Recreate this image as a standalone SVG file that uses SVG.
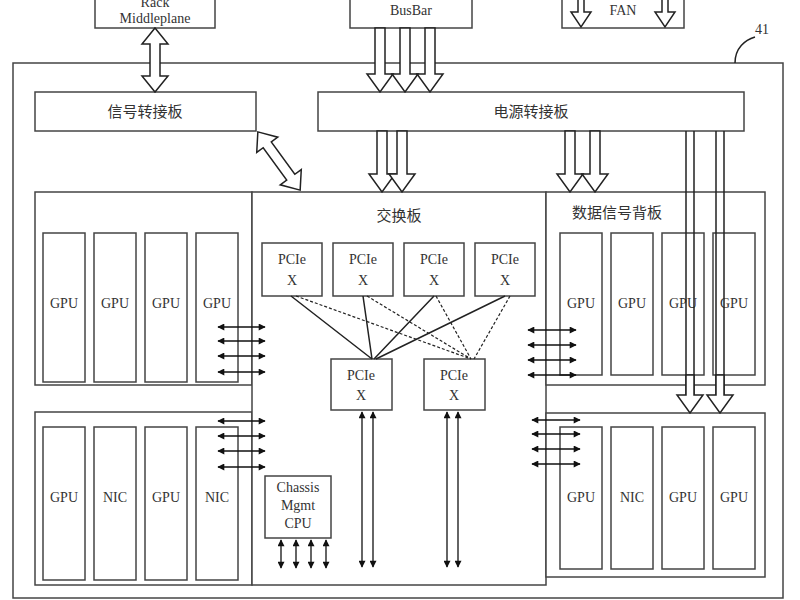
<svg xmlns="http://www.w3.org/2000/svg" width="800" height="600" viewBox="0 0 800 600">
<defs>
<style>
.b{fill:#fff;stroke:#444;stroke-width:1.5}
.t{font-family:"Liberation Serif","Noto Sans CJK SC",serif;font-size:14px;fill:#333;text-anchor:middle}
.c{font-size:15px}
.h{fill:#fff;stroke:#222;stroke-width:1.5}
.l{stroke:#222;stroke-width:1.5;fill:none}
.d{stroke:#222;stroke-width:1.2;fill:none;stroke-dasharray:3 2}
.a{stroke:#111;stroke-width:1.3;marker-start:url(#m);marker-end:url(#m)}
</style>
<marker id="m" viewBox="0 0 10 10" refX="9" refY="5" markerWidth="9" markerHeight="7" orient="auto-start-reverse" markerUnits="userSpaceOnUse"><path d="M0,0L10,5L0,10Z" fill="#111"/></marker>
</defs>
<rect width="800" height="600" fill="#fff"/>
<g id="outer"><rect class="b" x="13" y="63" width="770" height="535"/>
<path class="l" d="M735,63 C735,48 745,40 755,37"/><text class="t" x="762" y="34">41</text></g>
<g id="rack"><rect class="b" x="95" y="-10" width="120" height="38"/><text class="t" x="155" y="7">Rack</text><text class="t" x="155" y="23">Middleplane</text></g>
<g id="busbar"><rect class="b" x="350" y="-10" width="122" height="38"/><text class="t" x="411" y="15">BusBar</text></g>
<g id="fan"><rect class="b" x="562" y="-10" width="122" height="38"/><text class="t" x="623" y="15">FAN</text></g>
<g id="signal"><rect class="b" x="35" y="92" width="221" height="39"/><text class="t c" x="145" y="117">信号转接板</text></g>
<g id="power"><rect class="b" x="318" y="92" width="426" height="39"/><text class="t c" x="531" y="117">电源转接板</text></g>
<g id="leftTop"><rect class="b" x="35" y="192" width="217" height="193"/>
<rect class="b" x="43" y="233" width="42" height="149"/><rect class="b" x="94" y="233" width="42" height="149"/><rect class="b" x="145" y="233" width="42" height="149"/><rect class="b" x="196" y="233" width="42" height="149"/>
<text class="t" x="64" y="308">GPU</text><text class="t" x="115" y="308">GPU</text><text class="t" x="166" y="308">GPU</text><text class="t" x="217" y="308">GPU</text></g>
<g id="leftBottom"><rect class="b" x="35" y="412" width="217" height="173"/>
<rect class="b" x="43" y="427" width="42" height="153"/><rect class="b" x="94" y="427" width="42" height="153"/><rect class="b" x="145" y="427" width="42" height="153"/><rect class="b" x="196" y="427" width="42" height="153"/>
<text class="t" x="64" y="502">GPU</text><text class="t" x="115" y="502">NIC</text><text class="t" x="166" y="502">GPU</text><text class="t" x="217" y="502">NIC</text></g>
<g id="switch"><rect class="b" x="252" y="192" width="294" height="393"/><text class="t c" x="399" y="221">交换板</text></g>
<g id="rightTop"><rect class="b" x="546" y="192" width="219" height="193"/><text class="t c" x="617" y="218">数据信号背板</text>
<rect class="b" x="560" y="233" width="42" height="142"/><rect class="b" x="611" y="233" width="42" height="142"/><rect class="b" x="662" y="233" width="42" height="142"/><rect class="b" x="713" y="233" width="42" height="142"/>
<text class="t" x="581" y="308">GPU</text><text class="t" x="632" y="308">GPU</text><text class="t" x="683" y="308">GPU</text><text class="t" x="734" y="308">GPU</text></g>
<g id="rightBottom"><rect class="b" x="546" y="413" width="219" height="164"/>
<rect class="b" x="560" y="427" width="42" height="142"/><rect class="b" x="611" y="427" width="42" height="142"/><rect class="b" x="662" y="427" width="42" height="142"/><rect class="b" x="713" y="427" width="42" height="142"/>
<text class="t" x="581" y="502">GPU</text><text class="t" x="632" y="502">NIC</text><text class="t" x="683" y="502">GPU</text><text class="t" x="734" y="502">GPU</text></g>
<g id="pcie1"><rect class="b" x="262" y="243" width="60" height="53"/><text class="t" x="292" y="264">PCIe</text><text class="t" x="292" y="285">X</text></g>
<g id="pcie2"><rect class="b" x="333" y="243" width="60" height="53"/><text class="t" x="363" y="264">PCIe</text><text class="t" x="363" y="285">X</text></g>
<g id="pcie3"><rect class="b" x="404" y="243" width="60" height="53"/><text class="t" x="434" y="264">PCIe</text><text class="t" x="434" y="285">X</text></g>
<g id="pcie4"><rect class="b" x="475" y="243" width="60" height="53"/><text class="t" x="505" y="264">PCIe</text><text class="t" x="505" y="285">X</text></g>
<g id="pcie5"><rect class="b" x="331" y="359" width="61" height="51"/><text class="t" x="361" y="380">PCIe</text><text class="t" x="361" y="400">X</text></g>
<g id="pcie6"><rect class="b" x="424" y="359" width="61" height="51"/><text class="t" x="454" y="380">PCIe</text><text class="t" x="454" y="400">X</text></g>
<g id="cpu"><rect class="b" x="265" y="476" width="66" height="62"/><text class="t" x="298" y="492">Chassis</text><text class="t" x="298" y="510">Mgmt</text><text class="t" x="298" y="528">CPU</text></g>
<g id="connectors">
<path class="l" d="M291,296L372,359M363,296L372,359M434,296L374,359M505,296L376,359"/>
<path class="d" d="M296,296L471,359M367,296L471,359M436,296L471,359M510,296L474,359"/>
<line class="a" x1="218" y1="327" x2="265" y2="327"/><line class="a" x1="218" y1="341" x2="265" y2="341"/><line class="a" x1="218" y1="356" x2="265" y2="356"/><line class="a" x1="218" y1="372" x2="265" y2="372"/>
<line class="a" x1="218" y1="421" x2="265" y2="421"/><line class="a" x1="218" y1="436" x2="265" y2="436"/><line class="a" x1="218" y1="451" x2="265" y2="451"/><line class="a" x1="218" y1="467" x2="265" y2="467"/>
<line class="a" x1="528" y1="330" x2="576" y2="330"/><line class="a" x1="528" y1="345" x2="576" y2="345"/><line class="a" x1="528" y1="360" x2="576" y2="360"/><line class="a" x1="528" y1="375" x2="576" y2="375"/>
<line class="a" x1="532" y1="420" x2="580" y2="420"/><line class="a" x1="532" y1="434" x2="580" y2="434"/><line class="a" x1="532" y1="449" x2="580" y2="449"/><line class="a" x1="532" y1="464" x2="580" y2="464"/>
<line class="a" x1="362" y1="412" x2="362" y2="567"/><line class="a" x1="373" y1="412" x2="373" y2="567"/><line class="a" x1="447" y1="412" x2="447" y2="567"/><line class="a" x1="458" y1="412" x2="458" y2="567"/>
<line class="a" x1="281" y1="540" x2="281" y2="568"/><line class="a" x1="296" y1="540" x2="296" y2="568"/><line class="a" x1="311" y1="540" x2="311" y2="568"/><line class="a" x1="326" y1="540" x2="326" y2="568"/>
<polygon class="h" points="155,28 168,44 160,44 160,76 168,76 155,92 142,76 150,76 150,44 142,44"/>
<polygon class="h" transform="rotate(-36 279 161)" points="279,125 292,141 284,141 284,181 292,181 279,197 266,181 274,181 274,141 266,141"/>
<polygon class="h" points="375,28 385,28 385,74 393,74 380,92 367,74 375,74"/>
<polygon class="h" points="400,28 410,28 410,74 418,74 405,92 392,74 400,74"/>
<polygon class="h" points="425,28 435,28 435,74 443,74 430,92 417,74 425,74"/>
<polygon class="h" points="377,131 387,131 387,174 395,174 382,192 369,174 377,174"/>
<polygon class="h" points="397,131 407,131 407,174 415,174 402,192 389,174 397,174"/>
<polygon class="h" points="565,131 575,131 575,174 583,174 570,192 557,174 565,174"/>
<polygon class="h" points="590,131 600,131 600,174 608,174 595,192 582,174 590,174"/>
<polygon class="h" points="578,-10 584,-10 584,12 591,12 581,27 571,12 578,12"/>
<polygon class="h" points="662,-10 668,-10 668,12 675,12 665,27 655,12 662,12"/>
<path class="l" d="M686,131V395M694,131V395M716,131V395M724,131V395"/>
<polygon class="h" points="686,375 694,375 694,395 703,395 690,413 677,395 686,395"/>
<polygon class="h" points="716,375 724,375 724,395 733,395 720,413 707,395 716,395"/>
</g>
</svg>
